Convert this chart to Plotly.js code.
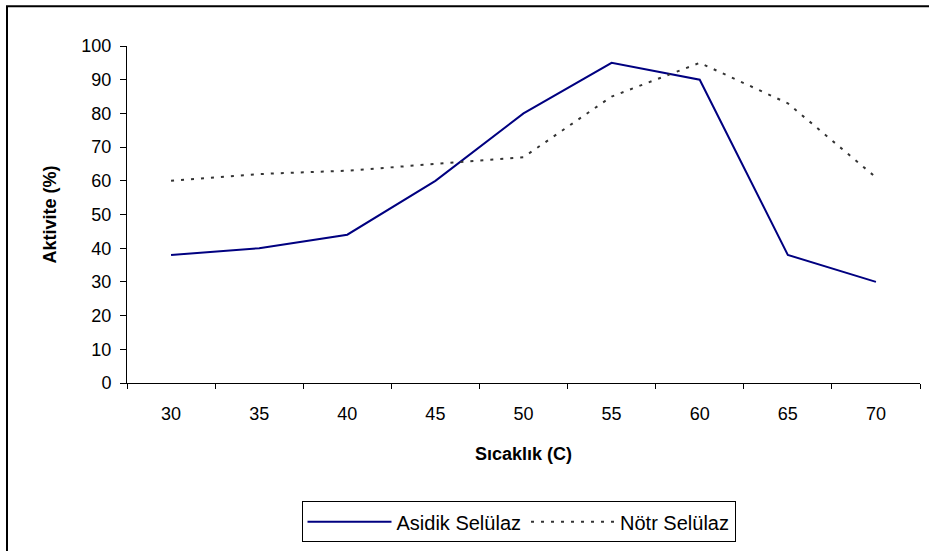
<!DOCTYPE html>
<html>
<head>
<meta charset="utf-8">
<script src="https://cdn.plot.ly/plotly-3.0.1.min.js"></script>
<style>
  html, body { margin: 0; padding: 0; background: #fff; }
  #chart { width: 929px; height: 551px; }
</style>
</head>
<body>
<div id="chart"></div>
<script>
// Temperature categories (°C) and relative activity (%) of the two cellulases
var temperatures = ['30', '35', '40', '45', '50', '55', '60', '65', '70'];
var asidikSelulaz = [38, 40, 44, 60, 80, 95, 90, 38, 30];
var notrSelulaz   = [60, 62, 63, 65, 67, 85, 95, 83, 61];
var yTickValues = [0, 10, 20, 30, 40, 50, 60, 70, 80, 90, 100];

var FONT = 'Liberation Sans, Arial, Helvetica, sans-serif';
var FS = 18;

var traces = [
  {
    x: temperatures,
    y: asidikSelulaz,
    name: 'Asidik Selülaz',
    type: 'scatter',
    mode: 'lines',
    line: { color: '#000080', width: 2 }
  },
  {
    x: temperatures,
    y: notrSelulaz,
    name: 'Nötr Selülaz',
    type: 'scatter',
    mode: 'lines',
    line: { color: '#333333', width: 2, dash: '3px,7px' }
  }
];

// Plot area spans 127..920 px horizontally and 46..385 px vertically
var L = 127, R = 920, T = 46, B = 385;
function px2paperX(px) { return (px - L) / (R - L); }
function px2paperY(py) { return (B - py) / (B - T); }

var layout = {
  width: 929,
  height: 551,
  margin: { l: L, r: 929 - R, t: T, b: 551 - B, pad: 0 },
  paper_bgcolor: '#ffffff',
  plot_bgcolor: '#ffffff',
  font: { family: FONT, size: FS, color: '#000' },
  showlegend: true,
  xaxis: {
    type: 'category',
    categoryorder: 'array',
    categoryarray: temperatures,
    range: [-0.5, temperatures.length - 0.5],
    showline: true,
    linecolor: '#000',
    linewidth: 1,
    ticks: 'outside',
    tickson: 'boundaries',
    ticklen: 5,
    tickcolor: '#000',
    ticklabelstandoff: 14,
    showgrid: false,
    zeroline: false,
    tickfont: { family: FONT, size: FS, color: '#000' },
    title: {
      text: 'Sıcaklık (C)',
      font: { family: FONT, size: FS, color: '#000', weight: 'bold' },
      standoff: 24
    },
    fixedrange: true
  },
  yaxis: {
    range: [0, 100],
    tickmode: 'array',
    tickvals: yTickValues,
    ticktext: yTickValues.map(String),
    showline: true,
    linecolor: '#000',
    linewidth: 1,
    ticks: 'outside',
    ticklen: 6,
    tickcolor: '#000',
    ticklabelstandoff: 5,
    showgrid: false,
    zeroline: false,
    tickfont: { family: FONT, size: FS, color: '#000' },
    title: {
      text: 'Aktivite (%)',
      font: { family: FONT, size: FS, color: '#000', weight: 'bold' },
      standoff: 20
    },
    fixedrange: true
  },
  legend: {
    orientation: 'h',
    x: px2paperX(518.5),
    xanchor: 'center',
    y: px2paperY(504),
    yanchor: 'top',
    bgcolor: '#ffffff',
    bordercolor: '#000',
    borderwidth: 1,
    font: { family: FONT, size: 20, color: '#000' },
    itemwidth: 84,
    tracegroupgap: 0
  },
  shapes: [
    // chart frame: left and top edges
    {
      type: 'line', xref: 'paper', yref: 'paper',
      x0: px2paperX(7), x1: px2paperX(7),
      y0: px2paperY(560), y1: px2paperY(6),
      line: { color: '#000', width: 2 }
    },
    {
      type: 'line', xref: 'paper', yref: 'paper',
      x0: px2paperX(6), x1: px2paperX(940),
      y0: px2paperY(6), y1: px2paperY(6),
      line: { color: '#000', width: 2 }
    }
  ]
};

Plotly.newPlot('chart', traces, layout, { displayModeBar: false, staticPlot: true });
</script>
</body>
</html>
